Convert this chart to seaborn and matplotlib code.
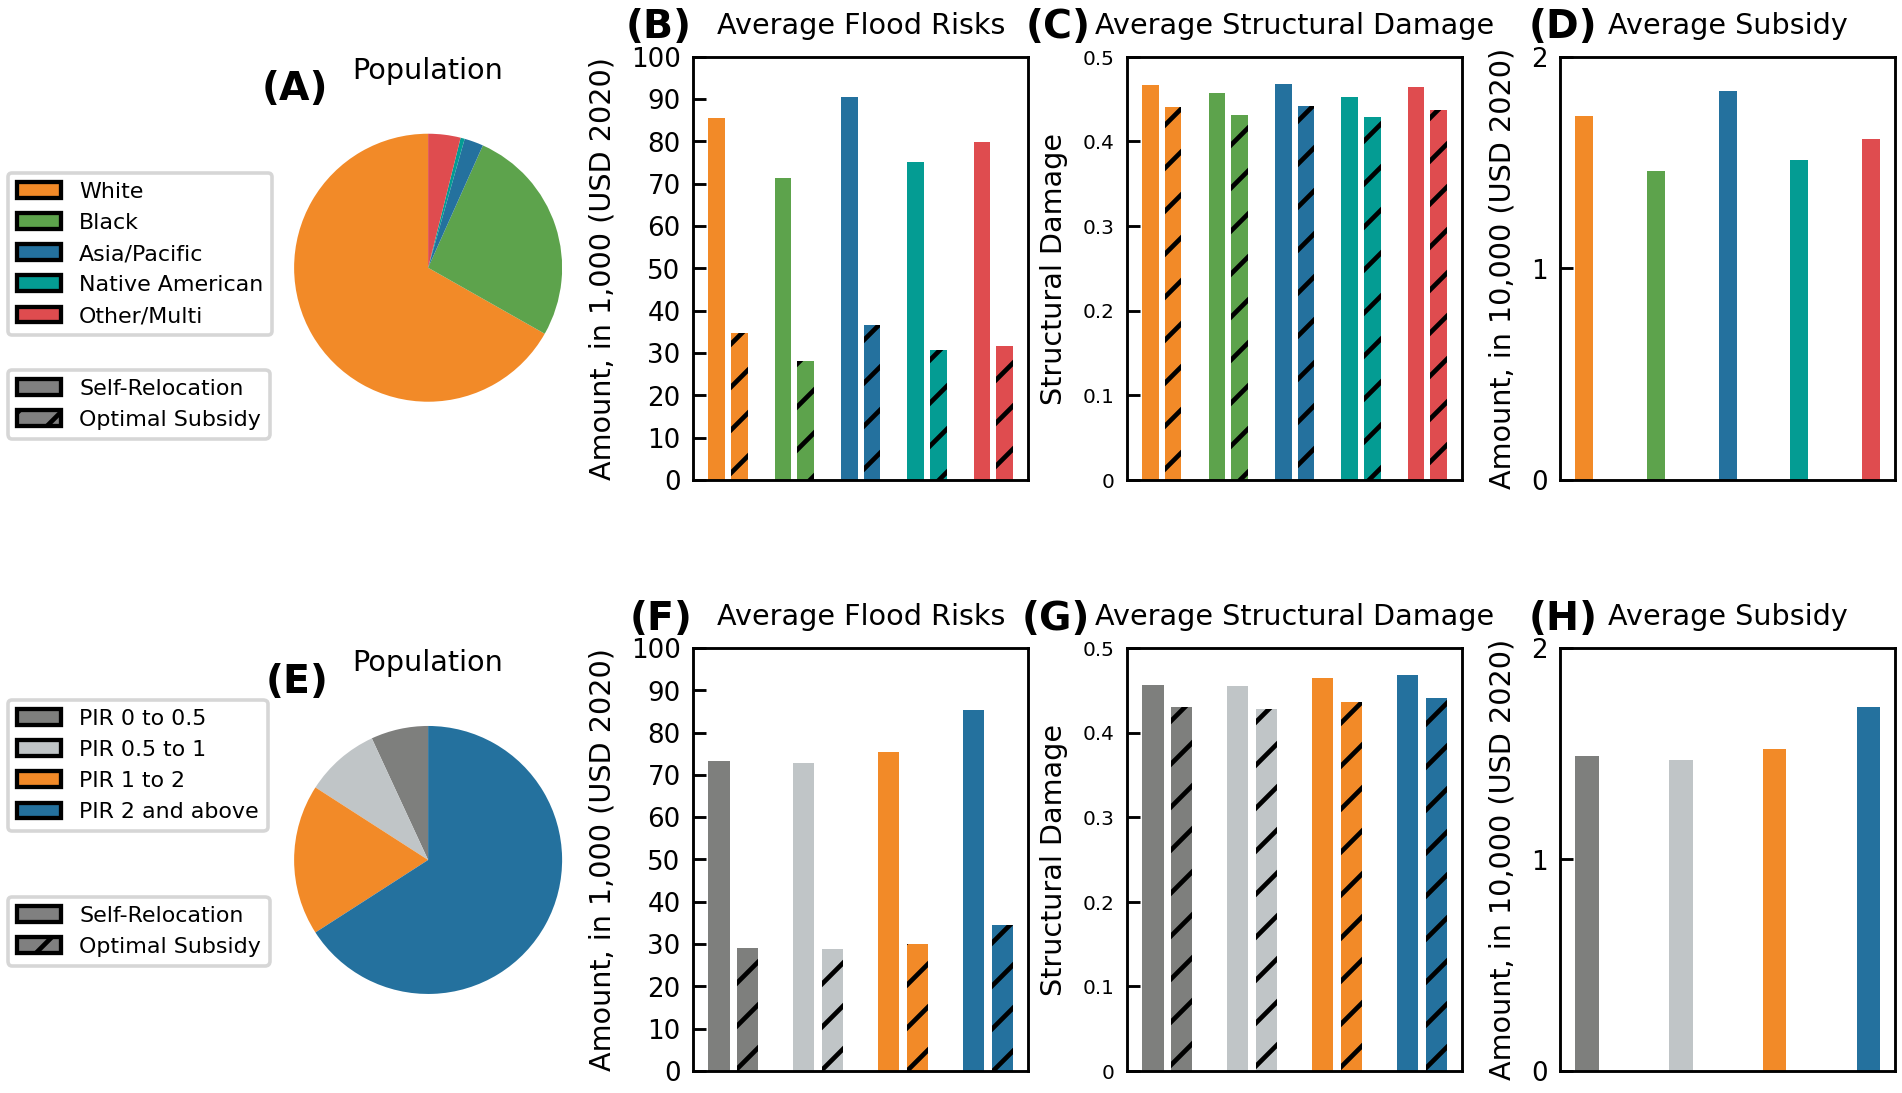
import pandas as pd
import seaborn as sns
import matplotlib.pyplot as plt
import matplotlib.patches as mpatches

DPI = 258
plt.rcParams["font.family"] = ["DejaVu Sans"]
plt.rcParams["hatch.linewidth"] = 1.3

# race / ethnicity panels (A-D)
race_groups = ["White", "Black", "Asia/Pacific", "Native American", "Other/Multi"]
race_colors = ["#f28a28", "#5da34c", "#24719e", "#049c93", "#df4c4f"]
race_pop = [66.8, 26.5, 2.3, 0.5, 3.9]
race_risk_self = [85.6, 71.4, 90.5, 75.2, 79.9]
race_risk_opt = [34.7, 28.2, 36.5, 30.6, 31.7]
race_dmg_self = [0.467, 0.457, 0.468, 0.453, 0.464]
race_dmg_opt = [0.441, 0.431, 0.442, 0.429, 0.437]
race_subsidy = [1.72, 1.46, 1.84, 1.51, 1.61]

# income panels (E-H)
pir_groups = ["PIR 0 to 0.5", "PIR 0.5 to 1", "PIR 1 to 2", "PIR 2 and above"]
pir_colors = ["#7e7f7d", "#c0c5c7", "#f28a28", "#24719e"]
pir_pop = [6.9, 9.0, 18.2, 65.9]
pir_risk_self = [73.3, 72.9, 75.3, 85.3]
pir_risk_opt = [29.1, 28.9, 30.0, 34.6]
pir_dmg_self = [0.456, 0.455, 0.464, 0.468]
pir_dmg_opt = [0.430, 0.428, 0.436, 0.441]
pir_subsidy = [1.49, 1.47, 1.52, 1.72]

scenarios = ["Self-Relocation", "Optimal Subsidy"]

risk_ticks = list(range(0, 101, 10))
dmg_ticks = [0, 0.1, 0.2, 0.3, 0.4, 0.5]
dmg_labels = ["0", "0.1", "0.2", "0.3", "0.4", "0.5"]
sub_ticks = [0, 1, 2]


def fit_xlim(ax):
    lefts = [p.get_x() for p in ax.patches]
    rights = [p.get_x() + p.get_width() for p in ax.patches]
    lo, hi = min(lefts), max(rights)
    pad = 0.05 * (hi - lo)
    ax.set_xlim(lo - pad, hi + pad)


def paired_bars(ax, groups, colors, self_vals, opt_vals):
    df = pd.DataFrame({
        "group": groups * 2,
        "scenario": [scenarios[0]] * len(groups) + [scenarios[1]] * len(groups),
        "value": list(self_vals) + list(opt_vals),
    })
    sns.barplot(data=df, x="group", y="value", hue="scenario", ax=ax,
                width=0.68, gap=0.265, saturation=1, linewidth=0,
                errorbar=None, legend=False)
    for k, cont in enumerate(ax.containers):
        for bar, c in zip(cont, colors):
            bar.set_facecolor(c)
            if k == 1:
                bar.set_edgecolor("black")
                bar.set_hatch("//")
                bar.set_linewidth(0)
    fit_xlim(ax)


def single_bars(ax, groups, colors, vals):
    df = pd.DataFrame({"group": groups, "value": vals})
    sns.barplot(data=df, x="group", y="value", hue="group", palette=colors,
                ax=ax, width=0.25, saturation=1, linewidth=0,
                errorbar=None, legend=False)
    fit_xlim(ax)


def style(ax, title, ylabel, ticks, ticklabels, tsize):
    ax.set_title(title, fontsize=8, pad=6.5)
    ax.set_xlabel("")
    ax.set_ylabel(ylabel, fontsize=8)
    ax.set_ylim(ticks[0], ticks[-1])
    ax.set_yticks(ticks)
    ax.set_yticklabels(ticklabels)
    ax.tick_params(axis="y", direction="in", labelsize=tsize, length=3.5)
    ax.tick_params(axis="x", bottom=False, labelbottom=False)
    for s in ax.spines.values():
        s.set_visible(True)
        s.set_color("black")


fig = plt.figure(figsize=(1902.3 / DPI, 1093.3 / DPI))

bar_lefts = [0.3644, 0.5925, 0.8202]
row_bottoms = [0.5608, 0.0201]
pie_bottoms = [0.6016, 0.0599]
bw, bh = 0.1761, 0.387

rows = [
    (race_groups, race_colors, race_pop, race_risk_self, race_risk_opt,
     race_dmg_self, race_dmg_opt, race_subsidy, "ABCD"),
    (pir_groups, pir_colors, pir_pop, pir_risk_self, pir_risk_opt,
     pir_dmg_self, pir_dmg_opt, pir_subsidy, "EFGH"),
]

label_x = [0.1725, 0.3638, 0.5731, 0.8396]
label_y = [(0.9085, 0.9652), (0.366, 0.4236)]
legend_y = [(0.8417, 0.6615), (0.3596, 0.1793)]

for r, (groups, colors, pop, rs, ro, ds, do, sub, letters) in enumerate(rows):
    # pie
    axp = fig.add_axes([0.137, pie_bottoms[r], 0.1761, 0.3065])
    axp.pie(pop, colors=colors, startangle=90, counterclock=True)
    axp.set_xlim(-1.25, 1.25)
    axp.set_ylim(-1.25, 1.25)
    axp.set_title("Population", fontsize=8)

    ax1 = fig.add_axes([bar_lefts[0], row_bottoms[r], bw, bh])
    paired_bars(ax1, groups, colors, rs, ro)
    style(ax1, "Average Flood Risks", "Amount, in 1,000 (USD 2020)",
          risk_ticks, [str(t) for t in risk_ticks], 7.3)

    ax2 = fig.add_axes([bar_lefts[1], row_bottoms[r], bw, bh])
    paired_bars(ax2, groups, colors, ds, do)
    style(ax2, "Average Structural Damage", "Structural Damage",
          dmg_ticks, dmg_labels, 5.6)

    ax3 = fig.add_axes([bar_lefts[2], row_bottoms[r], bw, bh])
    single_bars(ax3, groups, colors, sub)
    style(ax3, "Average Subsidy", "Amount, in 10,000 (USD 2020)",
          sub_ticks, [str(t) for t in sub_ticks], 7.3)

    # panel letters
    for i, letter in enumerate(letters):
        y = label_y[r][0] if i == 0 else label_y[r][1]
        fig.text(label_x[i], y, f"({letter})", ha="right", va="baseline",
                 fontsize=11, fontweight="bold")

    # legends
    group_handles = [mpatches.Patch(facecolor=c, edgecolor="black", linewidth=1.2,
                                    label=g) for g, c in zip(groups, colors)]
    fig.legend(handles=group_handles, loc="upper left",
               bbox_to_anchor=(0.0042, legend_y[r][0]), borderaxespad=0,
               fontsize=6.2)
    scen_handles = [
        mpatches.Patch(facecolor="gray", edgecolor="black", linewidth=1.2,
                       label=scenarios[0]),
        mpatches.Patch(facecolor="gray", edgecolor="black", linewidth=1.2,
                       hatch="//", label=scenarios[1]),
    ]
    fig.legend(handles=scen_handles, loc="upper left",
               bbox_to_anchor=(0.0042, legend_y[r][1]), borderaxespad=0,
               fontsize=6.2)

fig.savefig("out.png", dpi=DPI)
